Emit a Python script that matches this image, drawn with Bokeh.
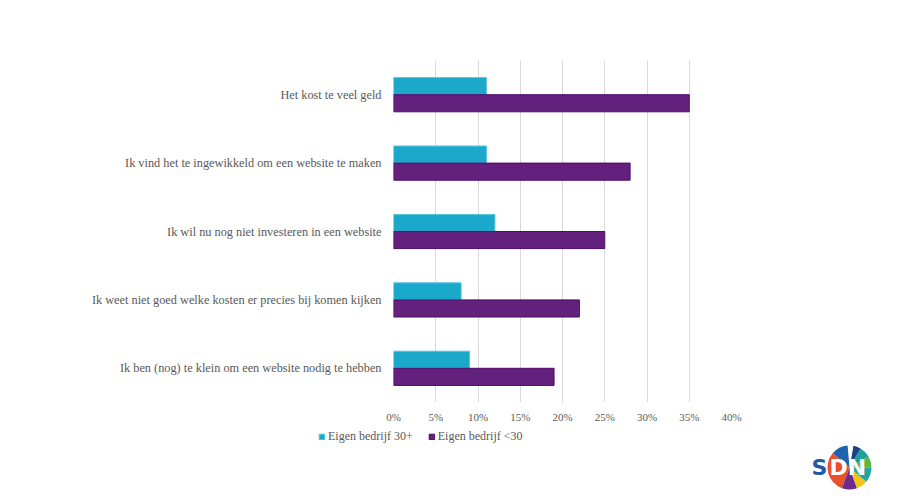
import math
from bokeh.plotting import figure
from bokeh.models import (FactorRange, Range1d, FixedTicker, PrintfTickFormatter,
                          Legend, LegendItem, Spacer, ColumnDataSource)
from bokeh.layouts import column, row
from bokeh.transform import dodge
from bokeh.core.properties import value
from bokeh.embed import file_html
from bokeh.resources import INLINE

categories = [
    "Het kost te veel geld",
    "Ik vind het te ingewikkeld om een website te maken",
    "Ik wil nu nog niet investeren in een website",
    "Ik weet niet goed welke kosten er precies bij komen kijken",
    "Ik ben (nog) te klein om een website nodig te hebben",
]
series_30plus = [11, 11, 12, 8, 9]
series_lt30 = [35, 28, 25, 22, 19]
series_names = ["Eigen bedrijf 30+", "Eigen bedrijf <30"]
x_ticks = [0, 5, 10, 15, 20, 25, 30, 35, 40]

FONT = "Liberation Serif"
GREY = "#595959"
CYAN = "#1aa9cb"
CYAN_LINE = "#5cc3dd"
PURPLE = "#63217d"
PURPLE_LINE = "#4b0a6e"

src = ColumnDataSource(dict(cat=categories, a=series_30plus, b=series_lt30))

p = figure(width=884, height=428, output_backend="svg", toolbar_location=None,
           y_range=FactorRange(factors=categories[::-1]),
           x_range=Range1d(0, 40),
           min_border_left=393, min_border_right=153,
           min_border_top=60, min_border_bottom=26)
p.outline_line_color = None

bar_style_a = dict(fill_color=CYAN, line_color=CYAN_LINE, line_width=1)
bar_style_b = dict(fill_color=PURPLE, line_color=PURPLE_LINE, line_width=1)

p.hbar(y=dodge("cat", 0.125, range=p.y_range), left=0, right="a", height=0.25,
       source=src, **bar_style_a)
p.hbar(y=dodge("cat", -0.125, range=p.y_range), left=0, right="b", height=0.25,
       source=src, **bar_style_b)

p.xaxis.ticker = FixedTicker(ticks=x_ticks)
p.xaxis.formatter = PrintfTickFormatter(format="%d%%")
for ax in (p.xaxis, p.yaxis):
    ax.axis_line_color = None
    ax.major_tick_line_color = None
    ax.minor_tick_line_color = None
    ax.major_label_text_font = FONT
    ax.major_label_text_color = GREY
p.xaxis.major_label_text_font_size = "11px"
p.yaxis.major_label_text_font_size = "12.3px"
p.xaxis.major_label_standoff = 2
p.yaxis.major_label_standoff = 6

p.xgrid.grid_line_color = "#d9d9d9"
p.xgrid.ticker = FixedTicker(ticks=x_ticks)
p.ygrid.grid_line_color = None

# Legend row (separate small figure so the legend can sit left of the plot frame)
lg = figure(width=230, height=62, output_backend="svg", toolbar_location=None,
            x_range=Range1d(0, 1), y_range=Range1d(0, 1), min_border=0)
lg.axis.visible = False
lg.grid.visible = False
lg.outline_line_color = None
# placeholder glyphs lying outside the visible range; only used for legend swatches
dummy = ColumnDataSource(dict(y=[-10], r=[0]))
la = lg.hbar(y="y", right="r", height=1, source=dummy, **bar_style_a)
lb = lg.hbar(y="y", right="r", height=1, source=dummy, **bar_style_b)
legend = Legend(items=[LegendItem(label=series_names[0], renderers=[la], index=0),
                       LegendItem(label=series_names[1], renderers=[lb], index=0)],
                orientation="horizontal", location=(8, 46),
                padding=0, margin=0, spacing=15, label_standoff=3,
                glyph_width=7, glyph_height=7,
                label_text_font=FONT, label_text_font_size="12px",
                label_text_color=GREY, background_fill_alpha=0,
                border_line_color=None, label_height=14)
lg.add_layout(legend, "center")

# SIDN logo (decorative)
logo = figure(width=62, height=62, output_backend="svg", toolbar_location=None,
              x_range=Range1d(0, 62), y_range=Range1d(0, 62), min_border=0)
logo.axis.visible = False
logo.grid.visible = False
logo.outline_line_color = None
wedge_angles = [0, 30, 60, 80, 95, 140, 250, 290, 320, 360]
wedge_colors = ["#5fb446", "#1d9f9b", "#1d3f86", "#ffffff", "#1e63b0",
                "#e8502e", "#6b2b8f", "#f2c21b", "#22a6a0"]
logo.wedge(x=39, y=23, radius=22,
           start_angle=[math.radians(a) for a in wedge_angles[:-1]],
           end_angle=[math.radians(a) for a in wedge_angles[1:]],
           fill_color=wedge_colors, line_color=None)
logo.text(x=[1], y=[23], text=["S"], text_color="#1e5aa5",
          text_font=value("DejaVu Sans"), text_font_style="bold",
          text_font_size="22px", text_baseline="middle")
logo.text(x=[19], y=[23], text=["DN"], text_color="#ffffff",
          text_font=value("DejaVu Sans"), text_font_style="bold",
          text_font_size="22px", text_baseline="middle")

layout = column(p, row(Spacer(width=310, height=62), lg, Spacer(width=270, height=62), logo))

open("out.html", "w").write(file_html(layout, INLINE))
